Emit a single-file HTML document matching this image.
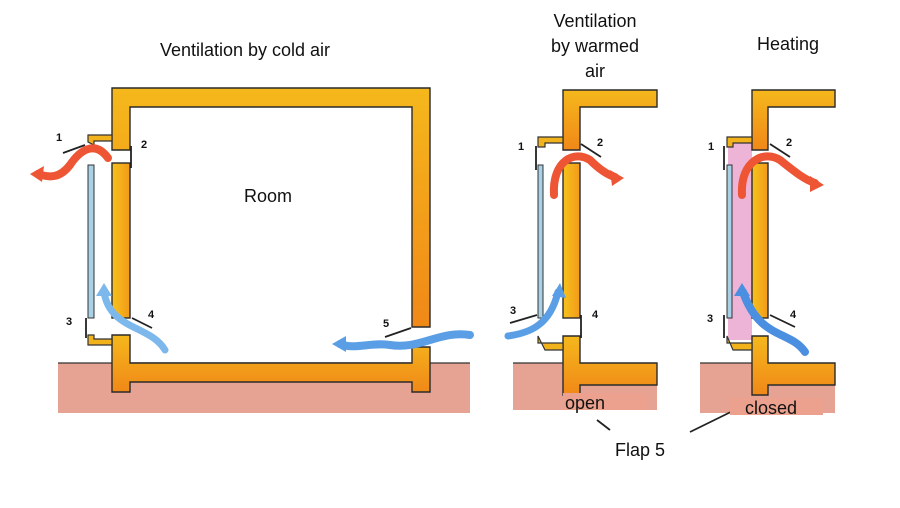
<!DOCTYPE html>
<html><head><meta charset="utf-8"><style>
body{margin:0;background:#fff}
svg{display:block}
text{font-family:"Liberation Sans",sans-serif;fill:#111}
</style></head><body>
<svg width="900" height="508" viewBox="0 0 900 508" xmlns="http://www.w3.org/2000/svg">
<defs>
<linearGradient id="w" x1="0" y1="0" x2="1" y2="0"><stop offset="0" stop-color="#f6c21c"/><stop offset="1" stop-color="#f29a1a"/></linearGradient>
<linearGradient id="h" x1="0" y1="0" x2="0" y2="1"><stop offset="0" stop-color="#f5b81c"/><stop offset="1" stop-color="#f08818"/></linearGradient>
</defs>
<g fill="#e6a292">
<rect x="58" y="363" width="412" height="50"/>
<rect x="513" y="363" width="144" height="47"/>
<rect x="700" y="363" width="135" height="50"/>
</g>
<g stroke="#333" stroke-width="1.3">
<line x1="58" y1="363" x2="470" y2="363"/>
<line x1="513" y1="363" x2="563" y2="363"/>
<line x1="700" y1="363" x2="752" y2="363"/>
</g>
<rect x="728" y="140" width="24" height="200" fill="#eeb4d8"/>
<!-- main room -->
<g stroke="#2a2a2a" stroke-width="1.4" fill="url(#h)">
<path d="M112 88 H430 V327 H412 V107 H130 V150 H112 Z"/>
<rect x="112" y="163" width="18" height="155" fill="url(#w)"/>
<path d="M112 335 H130 V363 H412 V347 H430 V392 H412 V382 H130 V392 H112 Z"/>
<!-- panel 2 -->
<path d="M563 90 H657 V107 H580 V150 H563 Z"/>
<rect x="563" y="163" width="17" height="155" fill="url(#w)"/>
<path d="M563 336 H580 V363 H657 V385 H580 V395 H563 Z"/>
<!-- panel 3 -->
<path d="M752 90 H835 V107 H768 V150 H752 Z"/>
<rect x="752" y="163" width="16" height="155" fill="url(#w)"/>
<path d="M752 336 H768 V363 H835 V385 H768 V395 H752 Z"/>
</g>
<!-- windows -->
<g stroke="#333" stroke-width="1" fill="#a8d0e6">
<rect x="88" y="165" width="6" height="153"/>
<rect x="538" y="165" width="5" height="153"/>
<rect x="727" y="165" width="5" height="153"/>
</g>
<g stroke="#333" stroke-width="1.2" fill="#f2b21c">
<path d="M88 142 V135 H112 V141 H94 V145 Z"/>
<path d="M88 335 V345 H112 V339 H94 V335 Z"/>
<path d="M538 147 V137 H563 V143 H545 V147 Z"/>
<path d="M538 336 V343 H563 V350 H545 Z"/>
<path d="M727 147 V137 H752 V143 H733 V147 Z"/>
<path d="M727 336 V343 H752 V350 H733 Z"/>
</g>
<!-- flaps -->
<g stroke="#222" stroke-width="1.8" fill="none">
<line x1="85" y1="145" x2="63" y2="153"/>
<line x1="131" y1="146" x2="131" y2="168"/>
<line x1="86" y1="318" x2="86" y2="338"/>
<line x1="132" y1="318" x2="152" y2="328"/>
<line x1="411" y1="328" x2="385" y2="337"/>
<line x1="536" y1="146" x2="536" y2="170"/>
<line x1="581" y1="144" x2="601" y2="157"/>
<line x1="537" y1="315" x2="510" y2="323"/>
<line x1="581" y1="315" x2="581" y2="338"/>
<line x1="724" y1="146" x2="724" y2="170"/>
<line x1="770" y1="144" x2="790" y2="157"/>
<line x1="724" y1="315" x2="724" y2="338"/>
<line x1="770" y1="315" x2="795" y2="327"/>
<line x1="597" y1="420" x2="610" y2="430"/>
<line x1="745" y1="405" x2="690" y2="432"/>
</g>
<!-- arrows -->
<g fill="none" stroke-linecap="round">
<path d="M108 158 C95 140 80 150 70 165 C60 178 50 178 38 174" stroke="#ee5535" stroke-width="8"/>
<path d="M165 350 C150 325 110 330 104 292" stroke="#7db8ec" stroke-width="7"/>
<path d="M470 335 C440 330 420 350 390 345 C370 342 355 350 340 344" stroke="#5a9fe6" stroke-width="8"/>
<path d="M554 195 C552 160 575 150 590 160 C600 170 608 175 615 177" stroke="#ee5535" stroke-width="8"/>
<path d="M508 336 C530 333 550 325 558 292" stroke="#5a9fe6" stroke-width="7"/>
<path d="M742 195 C740 160 765 150 780 160 C795 172 805 180 815 183" stroke="#ee5535" stroke-width="8"/>
<path d="M805 352 C790 330 760 340 743 292" stroke="#4a8fe0" stroke-width="8"/>
</g>
<g>
<polygon points="30,174 44,166 42,182" fill="#ee5535"/>
<polygon points="104,283 96,296 112,296" fill="#7db8ec"/>
<polygon points="332,344 346,336 346,352" fill="#5a9fe6"/>
<polygon points="624,178 610,170 612,186" fill="#ee5535"/>
<polygon points="560,283 552,296 566,298" fill="#5a9fe6"/>
<polygon points="824,185 810,176 810,192" fill="#ee5535"/>
<polygon points="742,283 734,296 750,296" fill="#4a8fe0"/>
</g>
<rect x="563" y="393" width="84" height="17" fill="#eba18e"/>
<rect x="730" y="398" width="93" height="17" fill="#eba18e"/>
<g font-size="11" font-weight="bold">
<text x="56" y="141">1</text><text x="141" y="148">2</text><text x="66" y="325">3</text><text x="148" y="318">4</text><text x="383" y="327">5</text>
<text x="518" y="150">1</text><text x="597" y="146">2</text><text x="510" y="314">3</text><text x="592" y="318">4</text>
<text x="708" y="150">1</text><text x="786" y="146">2</text><text x="707" y="322">3</text><text x="790" y="318">4</text>
</g>
<g font-size="18">
<text x="245" y="56" text-anchor="middle">Ventilation by cold air</text>
<text x="595" y="27" text-anchor="middle">Ventilation</text>
<text x="595" y="52" text-anchor="middle">by warmed</text>
<text x="595" y="77" text-anchor="middle">air</text>
<text x="788" y="50" text-anchor="middle">Heating</text>
<text x="268" y="202" text-anchor="middle">Room</text>
<text x="565" y="409">open</text>
<text x="745" y="414">closed</text>
<text x="615" y="456">Flap 5</text>
</g>
</svg>
</body></html>
